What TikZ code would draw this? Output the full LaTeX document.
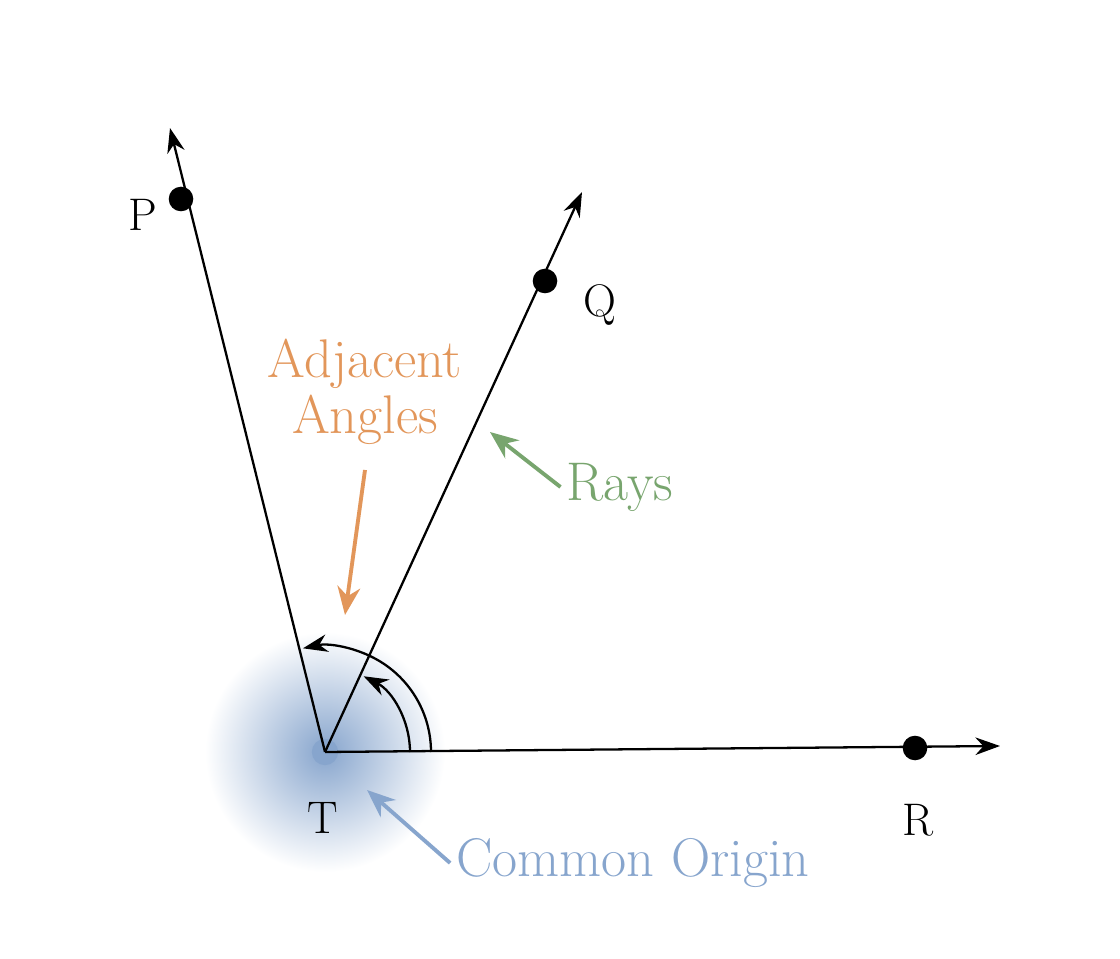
\documentclass[tikz,border=0pt]{standalone}
\usetikzlibrary{arrows.meta,calc}
\definecolor{adjorange}{RGB}{226,150,90}
\definecolor{raygreen}{RGB}{120,165,110}
\definecolor{originblue}{RGB}{135,165,205}
\tikzset{
  ray/.style={line width=1.3pt,-{Stealth[length=14pt,width=10pt]}},
  dot/.style={circle,fill=black,inner sep=0pt,minimum size=14pt},
  pt label/.style={font=\fontsize{26}{30}\selectfont},
  note/.style={font=\fontsize{31}{36}\selectfont,align=center},
  pointer/.style={line width=2.2pt,-{Stealth[length=16pt,width=13pt]}}
}
\begin{document}
\begin{tikzpicture}[x=0.02cm,y=-0.02cm]
  \useasboundingbox (0,0) rectangle (1120,959);
  % glow round the origin
  \shade[inner color=originblue,outer color=white] (325,752) circle (120);
  \node[circle,fill=originblue,inner sep=0pt,minimum size=15pt] (T) at (325,752) {};
  % points and rays
  \node[dot] (P) at (181,199) {};
  \node[dot] (Q) at (545,281) {};
  \node[dot] (R) at (915,748) {};
  \coordinate (Pend) at (170,128);
  \coordinate (Qend) at (582,192);
  \coordinate (Rend) at (1000,746);
  \draw[ray] (T.center) -- (Pend);
  \draw[ray] (T.center) -- (Qend);
  \draw[ray] (T.center) -- (Rend);
  % angle arcs
  \draw[ray] ($(T.center)+(85,0)$) arc[start angle=0,end angle=-63,radius=85];
  \draw[ray] ($(T.center)+(106,0)$) arc[start angle=0,end angle=-102,radius=106];
  % labels
  \node[pt label] (Plab) at (143,215) {P};
  \node[pt label] (Qlab) at (600,305) {Q};
  \node[pt label] (Rlab) at (918,820) {R};
  \node[pt label] (Tlab) at (323,818) {T};
  % notes
  \node[note,text=adjorange] (adj) at (365,392) {Adjacent\\[-4pt]Angles};
  \node[note,text=raygreen] (rays) at (620,487) {Rays};
  \node[note,text=originblue] (orig) at (633,863) {Common Origin};
  \coordinate (adjTip) at (345,615);
  \coordinate (rayTip) at (490,432);
  \coordinate (origTip) at (367,790);
  \draw[pointer,adjorange] (365,470) -- (adjTip);
  \draw[pointer,raygreen] (rays.west) -- (rayTip);
  \draw[pointer,originblue] (orig.west) -- (origTip);
\end{tikzpicture}
\end{document}
